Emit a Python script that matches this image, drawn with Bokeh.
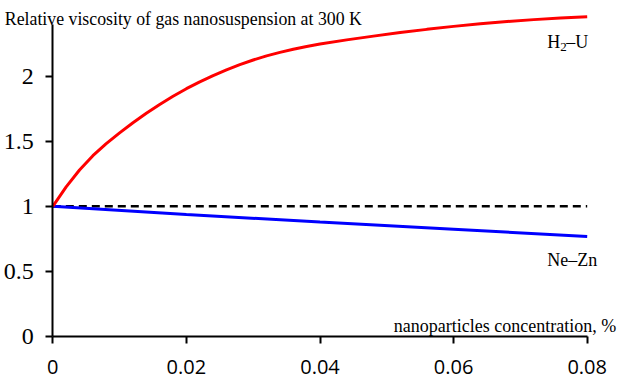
from bokeh.plotting import figure
from bokeh.models import Range1d, Label, FixedTicker
from bokeh.embed import file_html
from bokeh.resources import INLINE

# Data
h2u_x = [0, 0.002, 0.004, 0.006, 0.008, 0.010, 0.012, 0.014, 0.016, 0.018, 0.020,
         0.022, 0.024, 0.026, 0.028, 0.030, 0.032, 0.034, 0.036, 0.038, 0.040,
         0.044, 0.048, 0.052, 0.056, 0.060, 0.064, 0.068, 0.072, 0.076, 0.080]
h2u_y = [1.000, 1.150, 1.280, 1.390, 1.483, 1.566, 1.644, 1.717, 1.785, 1.848, 1.906,
         1.959, 2.007, 2.051, 2.091, 2.127, 2.159, 2.186, 2.210, 2.231, 2.250,
         2.282, 2.311, 2.338, 2.363, 2.386, 2.406, 2.423, 2.438, 2.451, 2.460]
nezn_x = [0, 0.02, 0.04, 0.06, 0.08]
nezn_y = [1.0, 0.937, 0.88, 0.824, 0.768]
ref_x = [0, 0.08]
ref_y = [1.0, 1.0]

x_ticks = [0, 0.02, 0.04, 0.06, 0.08]
x_tick_labels = {0: "0", 0.02: "0.02", 0.04: "0.04", 0.06: "0.06", 0.08: "0.08"}
y_ticks = [0, 0.5, 1, 1.5, 2]
y_tick_labels = {0: "0", 0.5: "0.5", 1: "1", 1.5: "1.5", 2: "2"}

title_text = "Relative viscosity of gas nanosuspension at 300 K"
x_label_text = "nanoparticles concentration, %"
nezn_name = "Ne\u2013Zn"

SERIF = "Liberation Serif"

W, H = 625, 382
X0_PX, X1_PX = 52.3, 586.7      # pixel positions of x=0 and x=0.08
Y0_PX, Y2_PX = 335.7, 76.0      # pixel positions of y=0 and y=2
sx = (X1_PX - X0_PX) / 0.08
sy = (Y0_PX - Y2_PX) / 2.0

p = figure(width=W, height=H,
           x_range=Range1d(-X0_PX / sx, (W - X0_PX) / sx),
           y_range=Range1d(-(H - Y0_PX) / sy, Y0_PX / sy),
           output_backend="svg", toolbar_location=None,
           min_border_left=0, min_border_right=0, min_border_top=0, min_border_bottom=0)
p.outline_line_color = None
p.grid.visible = False
p.background_fill_color = "white"
p.border_fill_color = "white"

p.line(ref_x, ref_y, line_color="black", line_width=2.5, line_dash="8 5")
p.line(nezn_x, nezn_y, line_color="#0000FF", line_width=3)
p.line(h2u_x, h2u_y, line_color="#FF0000", line_width=3)

xa = p.xaxis[0]
xa.fixed_location = 0
xa.bounds = (0, 0.08)
xa.ticker = FixedTicker(ticks=x_ticks)
xa.major_label_overrides = x_tick_labels
xa.minor_tick_line_color = None
xa.major_tick_in = 0
xa.major_tick_out = 7
xa.axis_line_width = 2
xa.major_tick_line_width = 2
xa.axis_line_color = "black"
xa.major_tick_line_color = "black"
xa.major_label_text_font = "Open Sans"
xa.major_label_text_font_size = "20px"
xa.major_label_text_color = "black"
xa.major_label_standoff = 17

ya = p.yaxis[0]
ya.fixed_location = 0
ya.bounds = (0, 2.4)
ya.ticker = FixedTicker(ticks=y_ticks)
ya.major_label_overrides = y_tick_labels
ya.minor_tick_line_color = None
ya.major_tick_in = 0
ya.major_tick_out = 7
ya.axis_line_width = 2
ya.major_tick_line_width = 2
ya.axis_line_color = "black"
ya.major_tick_line_color = "black"
ya.major_label_text_font = SERIF
ya.major_label_text_font_size = "24px"
ya.major_label_text_color = "black"
ya.major_label_standoff = 12

def add_label(text, x, y, align, x_off=0, y_off=0, size="18px"):
    p.add_layout(Label(x=x, y=y, text=text, x_offset=x_off, y_offset=y_off,
                       text_align=align, text_baseline="alphabetic", text_font=SERIF,
                       text_font_size=size, text_color="black"))

add_label(title_text, 0, 2.444, "left", x_off=-48, size="17.8px")
# H2-U with a lowered subscript
add_label("H", 0.08, 2.262, "left", x_off=-40)
add_label("2", 0.08, 2.262, "left", x_off=-27, y_off=-5, size="13px")
add_label("\u2013U", 0.08, 2.262, "left", x_off=-21)
add_label(nezn_name, 0.08, 0.588, "right", x_off=10)
add_label(x_label_text, 0.08, 0.075, "right", x_off=29)

open("out.html", "w").write(file_html(p, INLINE))
